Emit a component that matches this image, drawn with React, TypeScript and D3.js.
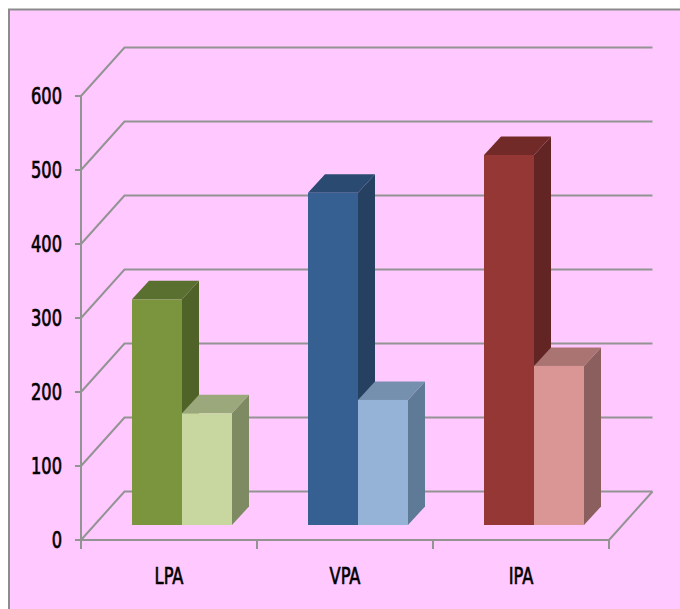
import React from "react";
import * as d3 from "d3";

const categories = ["LPA", "VPA", "IPA"];
const firstSeries = [305, 449, 500];
const secondSeries = [151, 169, 215];
const yTicks = [0, 100, 200, 300, 400, 500, 600];
const firstFront = ["#7A953D", "#376092", "#953735"];
const firstTop = ["#5A7030", "#2A4A72", "#722A28"];
const firstSide = ["#4F6228", "#254061", "#632523"];
const secondFront = ["#C8D79F", "#95B3D7", "#DA9694"];
const secondTop = ["#9BA87B", "#7590AE", "#A97472"];
const secondSide = ["#7E8B62", "#5F7A96", "#8A5F5D"];

const W = 680;
const H = 609;
const BG = "#FFC8FF";
const GRID = "#939393";
const FONT = "'Liberation Sans Narrow','DejaVu Sans Condensed',sans-serif";

// Chart box: front floor edge plus the oblique offset of the back wall
const x = d3.scaleBand().domain(categories).range([81, 609]);
const y = d3.scaleLinear().domain([0, 600]).range([540, 96]);
const wallDx = 43.5;
const wallDy = 48.5;
const barDepthX = 17;
const barDepthY = 18.5;
const barFloorDy = 15;
const barWidth = 50;
const barInset = 13;

function Bar3D({ left, value, front, top, side }: { left: number; value: number; front: string; top: string; side: string }) {
  const right = left + barWidth;
  const yTop = y(value) - barFloorDy;
  const yBase = y(0) - barFloorDy;
  return (
    <g>
      <polygon points={`${right},${yTop} ${right + barDepthX},${yTop - barDepthY} ${right + barDepthX},${yBase - barDepthY} ${right},${yBase}`} fill={side} />
      <polygon points={`${left},${yTop} ${left + barDepthX},${yTop - barDepthY} ${right + barDepthX},${yTop - barDepthY} ${right},${yTop}`} fill={top} />
      <rect x={left} y={yTop} width={barWidth} height={yBase - yTop} fill={front} />
    </g>
  );
}

// Tall narrow label, stretched vertically about its baseline
function Label({ px, py, anchor, children }: { px: number; py: number; anchor: "end" | "middle"; children: React.ReactNode }) {
  return (
    <text
      transform={`translate(${px} ${py}) scale(0.86 1.1)`}
      textAnchor={anchor}
      fontFamily={FONT}
      fontSize={21}
      fill="#000"
      stroke="#000"
      strokeWidth={0.6}
    >
      {children}
    </text>
  );
}

export default function App() {
  const x0 = x.range()[0];
  const x1 = x.range()[1];
  return (
    <svg width={W} height={H} viewBox={`0 0 ${W} ${H}`} style={{ position: "absolute", left: 0, top: 0 }}>
      <rect width={W} height={H} fill="#fff" />
      <rect x={9} y={9.5} width={W} height={H} fill={BG} stroke="#8C8C8C" strokeWidth={2} />

      {/* Back wall gridlines with their oblique run to the value axis */}
      {yTicks.map((t) => (
        <polyline
          key={t}
          points={`${x0},${y(t)} ${x0 + wallDx},${y(t) - wallDy} ${x1 + wallDx},${y(t) - wallDy}`}
          fill="none"
          stroke={GRID}
          strokeWidth={2}
        />
      ))}
      <line x1={x1} y1={y(0)} x2={x1 + wallDx} y2={y(0) - wallDy} stroke={GRID} strokeWidth={2} />

      {/* Value axis */}
      <line x1={x0} y1={y(600)} x2={x0} y2={y(0) + 6} stroke={GRID} strokeWidth={2} />
      {yTicks.map((t) => (
        <g key={t}>
          <line x1={x0 - 6} y1={y(t)} x2={x0} y2={y(t)} stroke={GRID} strokeWidth={2} />
          <Label px={62} py={y(t) + 8} anchor="end">{t}</Label>
        </g>
      ))}

      {/* Category axis */}
      <line x1={x0} y1={y(0)} x2={x1} y2={y(0)} stroke={GRID} strokeWidth={2} />
      {[...categories.map((c) => x(c) as number), x1].map((px) => (
        <line key={px} x1={px} y1={y(0)} x2={px} y2={y(0) + 9} stroke={GRID} strokeWidth={2} />
      ))}
      {categories.map((c) => (
        <Label key={c} px={(x(c) as number) + x.bandwidth() / 2} py={584} anchor="middle">{c}</Label>
      ))}

      {/* Paired bars: the lighter series sits in front of the darker one's side face */}
      {categories.map((c, i) => {
        const left = (x(c) as number) + x.bandwidth() / 2 - barWidth + barInset;
        return (
          <g key={c}>
            <Bar3D left={left} value={firstSeries[i]} front={firstFront[i]} top={firstTop[i]} side={firstSide[i]} />
            <Bar3D left={left + barWidth} value={secondSeries[i]} front={secondFront[i]} top={secondTop[i]} side={secondSide[i]} />
          </g>
        );
      })}
    </svg>
  );
}
